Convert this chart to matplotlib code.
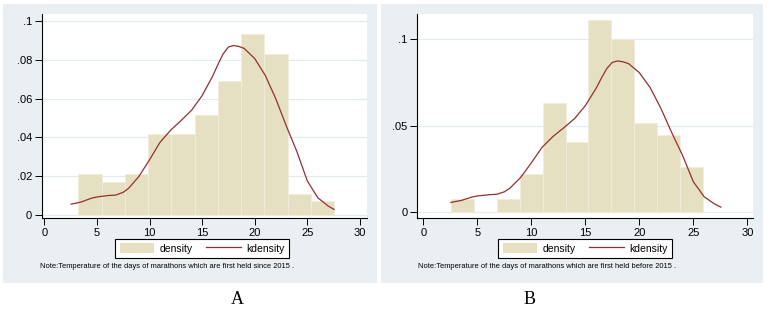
"""Two-panel Stata-style histogram + kernel density of marathon-day temperatures."""

import matplotlib
matplotlib.use('Agg')
import matplotlib.pyplot as plt
from matplotlib.patches import Rectangle, Patch
from matplotlib.lines import Line2D
import numpy as np

W, H = 771, 315

# --- data ---
edges_a = [3.23, 5.44, 7.66, 9.87, 12.08, 14.30, 16.51, 18.72, 20.93, 23.15, 25.36, 27.57]
density_a = [0.0210, 0.0172, 0.0210, 0.0416, 0.0416, 0.0518, 0.0690, 0.0930, 0.0830, 0.0108, 0.0071]

edges_b = [2.53, 4.66, 6.78, 8.91, 11.04, 13.17, 15.29, 17.42, 19.55, 21.67, 23.80, 25.93]
density_b = [0.0075, 0.0, 0.0075, 0.0221, 0.0629, 0.0408, 0.1108, 0.0998, 0.0515, 0.0444, 0.0260]

kde_x = [2.55, 3.5, 4.5, 5.0, 6.0, 6.8, 7.5, 8.0, 9.0, 10.0, 11.0, 12.0, 13.0, 14.0, 15.0,
         16.0, 16.5, 17.0, 17.5, 18.0, 18.5, 19.0, 20.0, 21.0, 22.0, 23.0, 24.0, 25.0,
         26.0, 27.0, 27.55]
kde_y = [0.0057, 0.0068, 0.0088, 0.0094, 0.0101, 0.0104, 0.0118, 0.0138, 0.0200, 0.0285,
         0.0375, 0.0437, 0.0487, 0.0540, 0.0615, 0.0715, 0.0775, 0.0830, 0.0865, 0.0873,
         0.0868, 0.0858, 0.0806, 0.0720, 0.0600, 0.0460, 0.0329, 0.0177, 0.0090,
         0.0047, 0.0030]

xticks = [0, 5, 10, 15, 20, 25, 30]
yticks_a = [0, 0.02, 0.04, 0.06, 0.08, 0.1]
ylabels_a = ['0', '.02', '.04', '.06', '.08', '.1']
yticks_b = [0, 0.05, 0.1]
ylabels_b = ['0', '.05', '.1']

note_a = 'Note:Temperature of the days of marathons which are first held since 2015 .'
note_b = 'Note:Temperature of the days of marathons which are first held before 2015 .'

BG = '#E9EFF2'
GRID = '#E4EBEF'
BAR = '#E6E0C2'
LINE = '#93302F'

plt.rcParams['font.family'] = ['Liberation Sans', 'DejaVu Sans']


def px_rect(x0, y0, x1, y1):
    return [x0 / W, 1 - y1 / H, (x1 - x0) / W, (y1 - y0) / H]


def draw_panel(fig, panel_box, ax_box, xlim, ylim, edges, dens, yticks, ylabels,
               legend_center, note_xy, note, letter_xy, letter):
    x0, y0, x1, y1 = panel_box
    fig.add_artist(Rectangle((x0 / W, 1 - y1 / H), (x1 - x0) / W, (y1 - y0) / H,
                             transform=fig.transFigure, facecolor=BG,
                             edgecolor='none', zorder=0))
    ax = fig.add_axes(px_rect(*ax_box))
    ax.set_facecolor('white')
    edges = np.array(edges)
    ax.bar(edges[:-1], dens, width=np.diff(edges), align='edge',
           color=BAR, edgecolor='#F1EDDA', linewidth=0.6, zorder=2)
    ax.plot(kde_x, kde_y, color=LINE, lw=0.9, zorder=3)
    for yt in yticks:
        ax.axhline(yt, color=GRID, lw=0.9, zorder=1)
    ax.set_xlim(*xlim)
    ax.set_ylim(*ylim)
    ax.set_xticks(xticks)
    ax.set_xticklabels([str(t) for t in xticks])
    ax.set_yticks(yticks)
    ax.set_yticklabels(ylabels)
    for s in ('top', 'right'):
        ax.spines[s].set_visible(False)
    for s in ('left', 'bottom'):
        ax.spines[s].set_linewidth(0.8)
    ax.tick_params(length=5, width=0.7, labelsize=8, pad=2)

    handles = [Patch(facecolor=BAR, edgecolor='none', label='density'),
               Line2D([0], [0], color=LINE, lw=0.9, label='kdensity')]
    fig.legend(handles=handles, loc='center',
               bbox_to_anchor=(legend_center[0] / W, 1 - legend_center[1] / H),
               ncol=2, fontsize=7.5, frameon=True, fancybox=False,
               edgecolor='black', framealpha=1, handlelength=3.3,
               handleheight=1.1, columnspacing=1.35, handletextpad=0.5,
               borderpad=0.4).get_frame().set_linewidth(0.8)

    fig.text(note_xy[0] / W, 1 - note_xy[1] / H, note, fontsize=5.4,
             ha='left', va='center', color='black')
    fig.text(letter_xy[0] / W, 1 - letter_xy[1] / H, letter, fontsize=13,
             family='Liberation Serif', ha='center', va='center')


fig = plt.figure(figsize=(W / 100, H / 100), dpi=100)

draw_panel(fig, (3, 4, 377, 283), (41.7, 14, 366.7, 218.3),
           (-0.25, 30.65), (-0.00157, 0.1035), edges_a, density_a,
           yticks_a, ylabels_a, (202, 248.5), (40, 267), note_a, (237, 300), 'A')

draw_panel(fig, (381, 4, 763, 283), (417.3, 14, 753, 218.3),
           (-0.555, 30.53), (-0.00346, 0.1144), edges_b, density_b,
           yticks_b, ylabels_b, (585, 248.5), (418, 267), note_b, (530, 300), 'B')

fig.savefig('out.png', dpi=100)
